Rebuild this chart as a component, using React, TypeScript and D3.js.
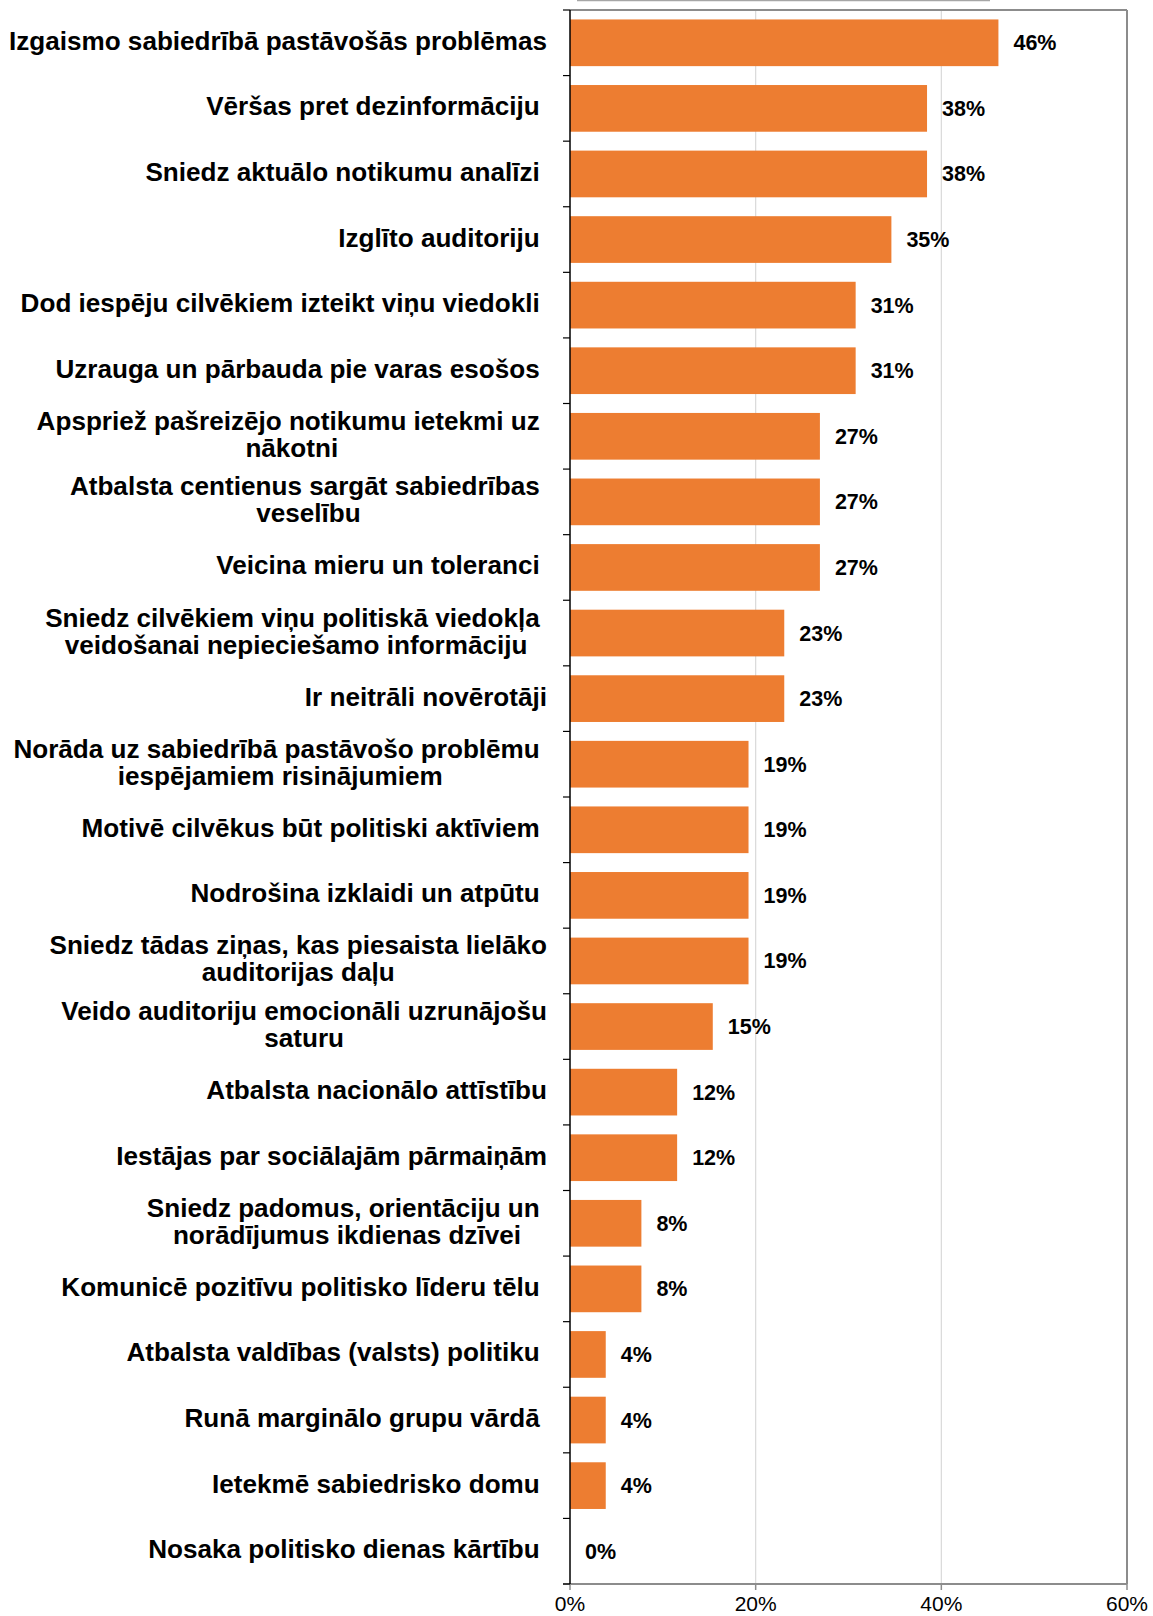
import * as React from 'react';
import * as d3 from 'd3';

// category labels, "\n" marks where the original wraps the line
const categories = [
  'Izgaismo sabiedrībā pastāvošās problēmas',
  'Vēršas pret dezinformāciju ',
  'Sniedz aktuālo notikumu analīzi ',
  'Izglīto auditoriju ',
  'Dod iespēju cilvēkiem izteikt viņu viedokli ',
  'Uzrauga un pārbauda pie varas esošos ',
  'Apspriež pašreizējo notikumu ietekmi uz \nnākotni',
  'Atbalsta centienus sargāt sabiedrības \nveselību',
  'Veicina mieru un toleranci ',
  'Sniedz cilvēkiem viņu politiskā viedokļa \nveidošanai nepieciešamo informāciju',
  'Ir neitrāli novērotāji',
  'Norāda uz sabiedrībā pastāvošo problēmu \niespējamiem risinājumiem',
  'Motivē cilvēkus būt politiski aktīviem ',
  'Nodrošina izklaidi un atpūtu ',
  'Sniedz tādas ziņas, kas piesaista lielāko\nauditorijas daļu',
  'Veido auditoriju emocionāli uzrunājošu\nsaturu',
  'Atbalsta nacionālo attīstību',
  'Iestājas par sociālajām pārmaiņām',
  'Sniedz padomus, orientāciju un \nnorādījumus ikdienas dzīvei',
  'Komunicē pozitīvu politisko līderu tēlu ',
  'Atbalsta valdības (valsts) politiku ',
  'Runā marginālo grupu vārdā ',
  'Ietekmē sabiedrisko domu ',
  'Nosaka politisko dienas kārtību ',
];

// share of respondents, percent
const values = [
  46.15, 38.46, 38.46, 34.62, 30.77, 30.77, 26.92, 26.92, 26.92, 23.08, 23.08, 19.23,
  19.23, 19.23, 19.23, 15.38, 11.54, 11.54, 7.69, 7.69, 3.85, 3.85, 3.85, 0,
];

const xTicks = [0, 20, 40, 60];

const FONT = '"Liberation Sans", Arial, Helvetica, sans-serif';
const W = 1153;
const H = 1616;

export default function App() {
  const labelsRef = React.useRef<SVGGElement>(null);

  const margin = { top: 10, right: 26, bottom: 32, left: 570 };
  const plotRight = W - margin.right;
  const plotBottom = H - margin.bottom;

  const x = d3.scaleLinear().domain([0, 60]).range([margin.left, plotRight]);
  const y = d3
    .scaleBand<string>()
    .domain(categories)
    .range([margin.top, plotBottom])
    .paddingInner(0.288)
    .paddingOuter(0.144);

  const step = y.step();
  const labelRight = 547;
  const lineH = 27;

  React.useEffect(() => {
    const g = d3.select(labelsRef.current);
    g.selectAll('*').remove();

    categories.forEach((c) => {
      const lines = c.split('\n');
      const cy = (y(c) as number) + y.bandwidth() / 2;
      const texts = lines.map((ln, i) =>
        g
          .append('text')
          .attr('y', cy + (i - (lines.length - 1) / 2) * lineH + 7)
          .attr('text-anchor', 'middle')
          .style('white-space', 'pre')
          .attr('font-family', FONT)
          .attr('font-weight', 'bold')
          .attr('font-size', 26.1)
          .attr('fill', '#000')
          .text(ln)
      );
      // wrapped lines are centred inside the label block, block is right-aligned
      const widths = texts.map((t) => (t.node() as SVGTextElement).getComputedTextLength());
      const blockW = d3.max(widths) as number;
      texts.forEach((t) => t.attr('x', labelRight - blockW / 2));
    });
  }, []);

  return (
    <div style={{ position: 'absolute', left: 0, top: 0 }}>
      <svg width={W} height={H} style={{ display: 'block', background: '#fff' }}>
        {/* cut-off frame edge along the top */}
        <line x1={577} x2={990} y1={0.5} y2={0.5} stroke="#a6a6a6" strokeWidth={1.5} />

        {/* gridlines */}
        {xTicks.slice(1, -1).map((t) => (
          <line key={t} x1={x(t)} x2={x(t)} y1={margin.top} y2={plotBottom} stroke="#d9d9d9" strokeWidth={1.2} />
        ))}

        {/* bars */}
        {categories.map((c, i) => (
          <rect
            key={c}
            x={x(0)}
            y={y(c)}
            width={x(values[i]) - x(0)}
            height={y.bandwidth()}
            fill="#ED7D31"
          />
        ))}

        {/* plot frame: top, right, bottom */}
        <line x1={margin.left} x2={plotRight} y1={margin.top} y2={margin.top} stroke="#8c8c8c" strokeWidth={2} />
        <line x1={plotRight} x2={plotRight} y1={margin.top} y2={plotBottom} stroke="#8c8c8c" strokeWidth={2} />
        <line x1={margin.left - 7} x2={plotRight} y1={plotBottom} y2={plotBottom} stroke="#8c8c8c" strokeWidth={2} />

        {/* bottom ticks and labels */}
        {xTicks.map((t) => (
          <g key={t}>
            <line x1={x(t)} x2={x(t)} y1={plotBottom} y2={plotBottom + 6} stroke="#8c8c8c" strokeWidth={1.5} />
            <text
              x={x(t)}
              y={plotBottom + 27}
              textAnchor="middle"
              fontFamily={FONT}
              fontSize={21}
              fill="#000"
            >
              {t}%
            </text>
          </g>
        ))}

        {/* left axis with band ticks */}
        <line x1={margin.left} x2={margin.left} y1={margin.top} y2={plotBottom} stroke="#000" strokeWidth={1.5} />
        {d3.range(categories.length + 1).map((i) => (
          <line
            key={i}
            x1={margin.left - 7}
            x2={margin.left}
            y1={margin.top + i * step}
            y2={margin.top + i * step}
            stroke="#000"
            strokeWidth={1.2}
          />
        ))}

        {/* value labels */}
        {categories.map((c, i) => (
          <text
            key={c}
            x={x(values[i]) + 15}
            y={(y(c) as number) + y.bandwidth() / 2 + 7.5}
            fontFamily={FONT}
            fontWeight="bold"
            fontSize={21.5}
            fill="#000"
          >
            {Math.round(values[i])}%
          </text>
        ))}

        <g ref={labelsRef} />
      </svg>
    </div>
  );
}
